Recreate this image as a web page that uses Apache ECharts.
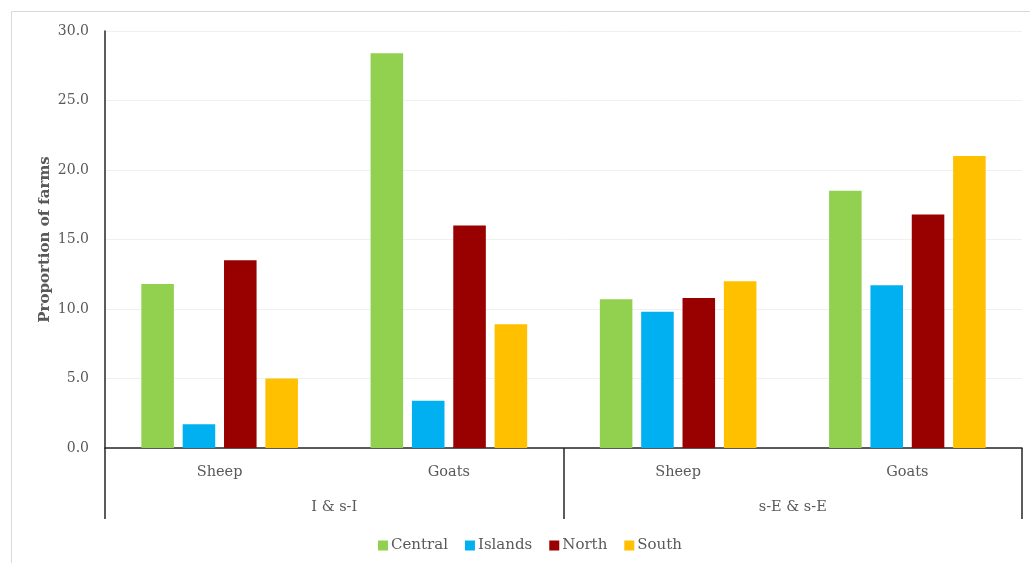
<!DOCTYPE html>
<html>
<head>
<meta charset="utf-8">
<script src="https://cdn.jsdelivr.net/npm/echarts@6/dist/echarts.min.js"></script>
<style>html,body{margin:0;padding:0;background:#fff;}#chart{width:1030px;height:563px;}</style>
</head>
<body>
<div id="chart"></div>
<script>
var categories = ['Sheep', 'Goats', 'Sheep', 'Goats'];
var groups = ['I & s-I', 's-E & s-E'];
var seriesNames = ['Central', 'Islands', 'North', 'South'];
var central = [11.8, 28.4, 10.7, 18.5];
var islands = [1.7, 3.4, 9.8, 11.7];
var north = [13.5, 16.0, 10.8, 16.8];
var south = [5.0, 8.9, 12.0, 21.0];
var colors = ['#92D050', '#00B0F0', '#990000', '#FFC000'];
var values = [central, islands, north, south];

var font = 'DejaVu Serif';
var chart = echarts.init(document.getElementById('chart'));
chart.setOption({
  animation: false,
  graphic: [{
    type: 'rect', shape: {x: 11.5, y: 11.5, width: 1030, height: 560},
    style: {fill: 'none', stroke: '#d9d9d9', lineWidth: 1}, silent: true
  }],
  grid: {left: 105, right: 8, top: 31, bottom: 115},
  legend: {
    top: 533, left: 373, itemWidth: 10, itemHeight: 10, itemGap: 17,
    icon: 'rect',
    textStyle: {fontFamily: font, fontSize: 15, color: '#595959', padding: [0, 0, 0, -2]},
    data: seriesNames
  },
  xAxis: [{
    type: 'category', data: categories, position: 'bottom',
    axisLine: {lineStyle: {color: '#262626', width: 1.5}},
    axisTick: {show: false},
    axisLabel: {fontFamily: font, fontSize: 14.5, color: '#595959', margin: 17}
  }, {
    type: 'category', data: groups, position: 'bottom',
    axisLine: {show: false},
    axisTick: {show: true, length: 71, lineStyle: {color: '#262626', width: 1.5}},
    axisLabel: {fontFamily: font, fontSize: 14.5, color: '#595959', margin: 52}
  }],
  yAxis: {
    type: 'value', min: 0, max: 30, interval: 5,
    name: 'Proportion of farms', nameLocation: 'middle', nameGap: 52,
    nameMoveOverlap: false,
    nameTextStyle: {fontFamily: font, fontSize: 15, fontWeight: 'bold', color: '#595959'},
    axisLine: {show: true, lineStyle: {color: '#262626', width: 1.5}},
    axisTick: {show: false},
    axisLabel: {fontFamily: font, fontSize: 14, color: '#595959', margin: 16,
      formatter: function (v) { return v.toFixed(1); }},
    splitLine: {lineStyle: {color: '#f0f0f0'}}
  },
  series: seriesNames.map(function (n, i) {
    return {
      name: n, type: 'bar', xAxisIndex: 0, data: values[i],
      barWidth: '14.2%', barGap: '27%',
      itemStyle: {color: colors[i]}
    };
  })
});
</script>
</body>
</html>
